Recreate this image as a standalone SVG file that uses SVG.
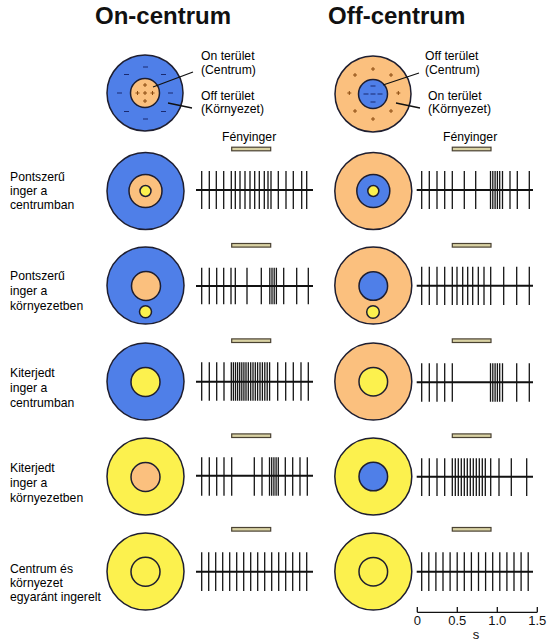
<svg xmlns="http://www.w3.org/2000/svg" width="550" height="644" viewBox="0 0 550 644">
<style>
.bg{fill:#ffffff}
.title{font-family:"Liberation Sans",Arial,sans-serif;font-size:24px;font-weight:bold;fill:#111}
.lbl{font-family:"Liberation Sans",Arial,sans-serif;font-size:12.2px;fill:#000}
.ax{font-family:"Liberation Sans",Arial,sans-serif;font-size:13px;fill:#111}
.blue{fill:#4f7fe8;stroke:#1e1e30;stroke-width:1.5}
.orange{fill:#fbc07e;stroke:#1e1e30;stroke-width:1.5}
.yellow{fill:#fcf14e;stroke:#1e1e30;stroke-width:1.5}
.ring{fill:none;stroke:#1e1e30;stroke-width:1.5}
.spk{fill:none;stroke:#151515;stroke-width:1.3}
.base{fill:none;stroke:#111;stroke-width:2}
.bar{fill:#d9d2a4;stroke:#4a4232;stroke-width:1.2}
.lead{fill:none;stroke:#111;stroke-width:1.3}
.minus{fill:none;stroke:#1a2a70;stroke-width:1}
.plus{fill:none;stroke:#8a4a10;stroke-width:1}
</style>
<rect class="bg" x="0" y="0" width="550" height="644"/>

<g id="titles">
<text class="title" x="95" y="24">On-centrum</text>
<text class="title" x="328" y="24">Off-centrum</text>
</g>

<g id="legend-on">
<circle class="blue" cx="145" cy="93" r="38"/>
<circle class="orange" cx="145" cy="93" r="14.5"/>
<path class="minus" d="M143 67h5M143 119h5M117 93h5M168 93h5M124 74.5h5M161 74.5h5M124 111.5h5M161 111.5h5"/>
<path class="plus" d="M143 85h4M145 83v4M135.5 93h4M137.5 91v4M143 93h4M145 91v4M150.5 93h4M152.5 91v4M143 101h4M145 99v4"/>
<path class="lead" d="M153 87L193 72M168 103L192 108"/>
<text class="lbl" x="201" y="60">On terület</text>
<text class="lbl" x="201" y="74">(Centrum)</text>
<text class="lbl" x="201" y="100">Off terület</text>
<text class="lbl" x="201" y="113">(Környezet)</text>
<text class="lbl" x="222" y="141">Fényinger</text>
</g>

<g id="legend-off">
<circle class="orange" cx="373" cy="94" r="38"/>
<circle class="blue" cx="373" cy="94" r="14.5"/>
<path class="plus" d="M371 69h4M373 67v4M353 75h4M355 73v4M389 75h4M391 73v4M347.3 93h4M349.3 91v4M396.3 93h4M398.3 91v4M353 111h4M355 109v4M389 111h4M391 109v4M371 119h4M373 117v4"/>
<path class="minus" d="M370.5 86h5M363.5 94h5M370.5 94h5M377.5 94h5M370.5 102h5"/>
<path class="lead" d="M383 85L419 73M396 103L420 108"/>
<text class="lbl" x="425" y="60">Off terület</text>
<text class="lbl" x="425" y="74">(Centrum)</text>
<text class="lbl" x="428" y="100">On terület</text>
<text class="lbl" x="428" y="113">(Környezet)</text>
<text class="lbl" x="443" y="141">Fényinger</text>
</g>

<g id="row1">
<text class="lbl" x="10" y="181">Pontszerű</text>
<text class="lbl" x="10" y="195">inger a</text>
<text class="lbl" x="10" y="209">centrumban</text>
<rect class="bar" x="231.7" y="147.2" width="39" height="3.6"/>
<rect class="bar" x="452.3" y="147.2" width="38.7" height="3.6"/>
<circle class="blue" cx="145.5" cy="191" r="38.5"/>
<circle class="orange" cx="145.5" cy="191" r="16.5"/>
<circle class="yellow" cx="145.5" cy="191" r="5.5"/>
<circle class="orange" cx="373.3" cy="191" r="38.5"/>
<circle class="blue" cx="373.3" cy="191" r="16.5"/>
<circle class="yellow" cx="373.3" cy="191" r="5.5"/>
</g>

<g id="row2">
<text class="lbl" x="10" y="280">Pontszerű</text>
<text class="lbl" x="10" y="295">inger a</text>
<text class="lbl" x="10" y="310">környezetben</text>
<rect class="bar" x="231.7" y="243.5" width="39" height="3.6"/>
<rect class="bar" x="452.3" y="243.5" width="38.7" height="3.6"/>
<circle class="blue" cx="145.5" cy="285.5" r="38.5"/>
<circle class="orange" cx="146" cy="286" r="14.5"/>
<circle class="yellow" cx="145.5" cy="311.7" r="6"/>
<circle class="orange" cx="373.3" cy="285.5" r="38.5"/>
<circle class="blue" cx="373.3" cy="286" r="14.3"/>
<circle class="yellow" cx="373" cy="312" r="6.3"/>
</g>

<g id="row3">
<text class="lbl" x="10" y="377">Kiterjedt</text>
<text class="lbl" x="10" y="392">inger a</text>
<text class="lbl" x="10" y="407">centrumban</text>
<rect class="bar" x="231.7" y="338.9" width="39" height="3.6"/>
<rect class="bar" x="452.3" y="338.9" width="38.7" height="3.6"/>
<circle class="blue" cx="145.5" cy="381.5" r="38.5"/>
<circle class="yellow" cx="145.5" cy="382" r="14.5"/>
<circle class="orange" cx="373.3" cy="381.5" r="38.5"/>
<circle class="yellow" cx="373.3" cy="381.7" r="14.3"/>
</g>

<g id="row4">
<text class="lbl" x="10" y="472">Kiterjedt</text>
<text class="lbl" x="10" y="487">inger a</text>
<text class="lbl" x="10" y="502">környezetben</text>
<rect class="bar" x="231.7" y="433.9" width="39" height="3.6"/>
<rect class="bar" x="452.3" y="433.9" width="38.7" height="3.6"/>
<circle class="yellow" cx="145.5" cy="476.5" r="38.5"/>
<circle class="orange" cx="145.5" cy="477" r="14.5"/>
<circle class="yellow" cx="373.3" cy="476.5" r="38.5"/>
<circle class="blue" cx="373.3" cy="476.5" r="14.3"/>
</g>

<g id="row5">
<text class="lbl" x="10" y="573">Centrum és</text>
<text class="lbl" x="10" y="587">környezet</text>
<text class="lbl" x="10" y="601">egyaránt ingerelt</text>
<rect class="bar" x="231.7" y="527.5" width="39" height="3.6"/>
<rect class="bar" x="452.3" y="527.5" width="38.7" height="3.6"/>
<circle class="yellow" cx="145.5" cy="571.5" r="38.5"/>
<circle class="ring" cx="145.5" cy="571.7" r="14.5"/>
<circle class="yellow" cx="373.3" cy="571.5" r="38.5"/>
<circle class="ring" cx="373.3" cy="571.7" r="14.3"/>
</g>

<g id="connectors">
<g id="train1L">
<path class="spk" d="M201.7 171V209M209.3 171V209M216.3 171V209M223.7 171V209M231.3 171V209M235.3 171V209M240 171V209M245 171V209M250 171V209M254.7 171V209M259.3 171V209M264.3 171V209M268 171V209M271 171V209M278.3 171V209M286 171V209M293.3 171V209M301.7 171V209M306.7 171V209"/>
<path class="base" d="M196 190H313"/>
</g>
<g id="train1R">
<path class="spk" d="M421.7 171V209M429.3 171V209M437 171V209M444.7 171V209M452.3 171V209M464.3 171V209M475.7 171V209M490.5 171V209M492.8 171V209M495.1 171V209M497.4 171V209M499.7 171V209M502.5 171V209M510 171V209M517.3 171V209M529.3 171V209"/>
<path class="base" d="M416.7 190H533"/>
</g>
<g id="train2L">
<path class="spk" d="M201.7 267.7V304.3M209.3 267.7V304.3M216.7 267.7V304.3M223.7 267.7V304.3M231 267.7V304.3M235.3 267.7V304.3M247 267.7V304.3M261.3 267.7V304.3M269.8 267.7V304.3M272 267.7V304.3M274.2 267.7V304.3M276.4 267.7V304.3M283.7 267.7V304.3M296.7 267.7V304.3M308.3 267.7V304.3"/>
<path class="base" d="M196 286H313"/>
</g>
<g id="train2R">
<path class="spk" d="M421.7 266.7V305M429.3 266.7V305M437 266.7V305M444.7 266.7V305M452.3 266.7V305M457 266.7V305M462.7 266.7V305M467.7 266.7V305M472.7 266.7V305M478.3 266.7V305M484 266.7V305M490.7 266.7V305M503.7 266.7V305M516.7 266.7V305M529.3 266.7V305"/>
<path class="base" d="M416.7 285.7H533"/>
</g>
<g id="train3L">
<path class="spk" d="M201.7 362.3V400.7M209.3 362.3V400.7M216.7 362.3V400.7M224 362.3V400.7M231.3 362.3V400.7M233.4 362.3V400.7M235.5 362.3V400.7M237.6 362.3V400.7M239.7 362.3V400.7M241.8 362.3V400.7M243.9 362.3V400.7M246 362.3V400.7M248.3 362.3V400.7M250.7 362.3V400.7M253 362.3V400.7M255.3 362.3V400.7M257.6 362.3V400.7M260 362.3V400.7M262.4 362.3V400.7M264.8 362.3V400.7M267.2 362.3V400.7M269.6 362.3V400.7M277.7 362.3V400.7M285.7 362.3V400.7M293.3 362.3V400.7M301 362.3V400.7M308.3 362.3V400.7"/>
<path class="base" d="M196 381.7H313"/>
</g>
<g id="train3R">
<path class="spk" d="M421.7 363.3V401.7M429.3 363.3V401.7M437 363.3V401.7M444.7 363.3V401.7M452.3 363.3V401.7M490.5 363.3V401.7M492.8 363.3V401.7M495.1 363.3V401.7M497.4 363.3V401.7M499.7 363.3V401.7M502.5 363.3V401.7M516.7 363.3V401.7M529.3 363.3V401.7"/>
<path class="base" d="M416.7 382.3H533"/>
</g>
<g id="train4L">
<path class="spk" d="M201.7 457.3V495.7M209.3 457.3V495.7M216.7 457.3V495.7M224 457.3V495.7M231.7 457.3V495.7M254.3 457.3V495.7M262 457.3V495.7M269.5 457.3V495.7M271.7 457.3V495.7M273.9 457.3V495.7M276.1 457.3V495.7M278.3 457.3V495.7M285.3 457.3V495.7M292.7 457.3V495.7M300 457.3V495.7M307.3 457.3V495.7"/>
<path class="base" d="M196 475.7H313"/>
</g>
<g id="train4R">
<path class="spk" d="M421.7 458.3V496M429.3 458.3V496M437 458.3V496M444.7 458.3V496M452.3 458.3V496M455.3 458.3V496M458.3 458.3V496M461.3 458.3V496M464.3 458.3V496M467.3 458.3V496M470.3 458.3V496M473.3 458.3V496M476.3 458.3V496M479.3 458.3V496M482.3 458.3V496M485.3 458.3V496M490.7 458.3V496M499 458.3V496M511.3 458.3V496M526.7 458.3V496"/>
<path class="base" d="M416.7 476.7H533"/>
</g>
<g id="train5L">
<path class="spk" d="M201.7 552.3V591M208.7 552.3V591M215.7 552.3V591M222.7 552.3V591M229.7 552.3V591M236.7 552.3V591M243.7 552.3V591M250.7 552.3V591M257.7 552.3V591M264.7 552.3V591M271.7 552.3V591M278.7 552.3V591M285.7 552.3V591M292.7 552.3V591M299.7 552.3V591M306.7 552.3V591"/>
<path class="base" d="M196 571.7H313"/>
</g>
<g id="train5R">
<path class="spk" d="M421.7 552.3V591M428.8 552.3V591M435.9 552.3V591M443 552.3V591M450.1 552.3V591M457.2 552.3V591M464.3 552.3V591M471.4 552.3V591M478.5 552.3V591M485.6 552.3V591M492.7 552.3V591M499.8 552.3V591M506.9 552.3V591M514 552.3V591M521.1 552.3V591M528.2 552.3V591"/>
<path class="base" d="M416.7 571.7H533"/>
</g>
</g>

<g id="scale">
<path class="lead" d="M417.3 612.3H537.3M417.3 607V612.3M457.3 607V612.3M497.3 607V612.3M537.3 607V612.3"/>
<text class="ax" x="417.3" y="625" text-anchor="middle">0</text>
<text class="ax" x="457.3" y="625" text-anchor="middle">0.5</text>
<text class="ax" x="497.3" y="625" text-anchor="middle">1.0</text>
<text class="ax" x="537.3" y="625" text-anchor="middle">1.5</text>
<text class="ax" x="476" y="639" text-anchor="middle">s</text>
</g>
</svg>
